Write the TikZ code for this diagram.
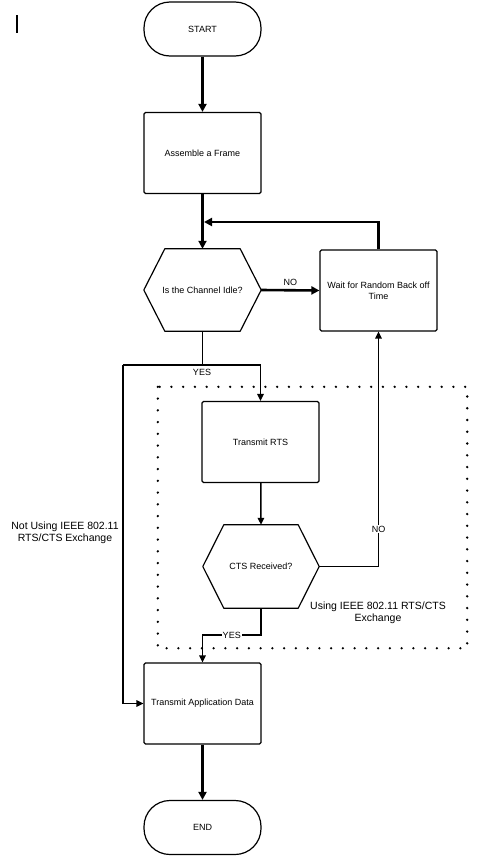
\documentclass[tikz,border=0pt]{standalone}
\usepackage{fontspec}
\setmainfont{Liberation Sans}
\usetikzlibrary{arrows.meta,calc}
\begin{document}
\begin{tikzpicture}[x=1pt,y=-1pt,
  font=\fontsize{9}{11}\selectfont,
  box/.style={draw,line width=1.2pt,rounded corners=1.5pt,minimum width=117pt,minimum height=81pt,inner sep=2pt,align=center},
  term/.style={draw,line width=1.2pt,rounded corners=26pt,minimum width=117pt,minimum height=54pt,inner sep=2pt},
  hexn/.style={minimum width=117pt,minimum height=82pt,inner sep=2pt,align=center},
  hexline/.style={line width=1.2pt,line join=round},
  thickarr/.style={line width=2.6pt,-{Triangle[length=8pt,width=8pt]}},
  thinarr/.style={line width=1.5pt,-{Triangle[length=7pt,width=6.5pt]}},
  thinline/.style={line width=1.5pt},
  lbl/.style={font=\fontsize{9}{11}\selectfont,inner sep=1pt},
  side/.style={font=\fontsize{10.5}{12.5}\selectfont,align=center},
  dotbox/.style={line width=2.6pt,line cap=round,dash pattern=on 0pt off 11.75pt}
]
\useasboundingbox (0,0) rectangle (480,862);
\draw[line width=2pt] (17,15) -- (17,33);

\node[term] (start) at (202.5,29) {START};
\node[box] (asm) at (202.5,153) {Assemble a Frame};
\node[hexn] (ch) at (202.5,290) {Is the Channel Idle?};
\draw[hexline] (ch.west) -- ($(ch.north west)+(21,0)$) -- ($(ch.north east)+(-21,0)$) -- (ch.east) -- ($(ch.south east)+(-21,0)$) -- ($(ch.south west)+(21,0)$) -- cycle;
\node[box] (wait) at (378.5,290.5) {Wait for Random Back off\\Time};
\node[box] (rts) at (260.5,442) {Transmit RTS};
\node[hexn,minimum width=116pt,minimum height=83pt] (cts) at (261,566.5) {CTS Received?};
\draw[hexline] (cts.west) -- ($(cts.north west)+(21,0)$) -- ($(cts.north east)+(-21,0)$) -- (cts.east) -- ($(cts.south east)+(-21,0)$) -- ($(cts.south west)+(21,0)$) -- cycle;
\node[box] (app) at (202.5,703.5) {Transmit Application Data};
\node[term] (end) at (202.5,827.5) {END};

\node[draw=none,minimum width=309pt,minimum height=261pt] (dbox) at (312.5,517.5) {};
\draw[dotbox] (dbox.north west) rectangle (dbox.south east);

\node[side] (notusing) at (65,533) {Not Using IEEE 802.11\\RTS/CTS Exchange};
\node[side] (using) at (378,613) {Using IEEE 802.11 RTS/CTS\\Exchange};

\coordinate (loopc) at (204,222);
\coordinate (yl) at (123,365);
\coordinate (ycts) at (202.5,635);

\draw[thickarr] (start) -- (asm);
\draw[thickarr] (asm) -- (ch.north);
\draw[thickarr] (wait.north) |- (loopc);
\draw[thickarr] (ch.east) -- node[lbl,above=2pt] {NO} (wait.west);
\draw[thinline] (ch.south) |- (yl);
\node[lbl] (yes1) at (202,372) {YES};
\draw[thinarr] (yl) -| (rts.north);
\draw[thinarr] (yl) |- (app.west);
\draw[thinarr] (rts) -- (cts.north);
\draw[thinarr] (cts.east) -| node[pos=0.58,lbl,fill=white] {NO} (wait.south);
\draw[thinarr] (cts.south) |- node[pos=0.75,lbl,fill=white] {YES} (ycts) -- (app.north);
\draw[thickarr] (app) -- (end);
\end{tikzpicture}
\end{document}
